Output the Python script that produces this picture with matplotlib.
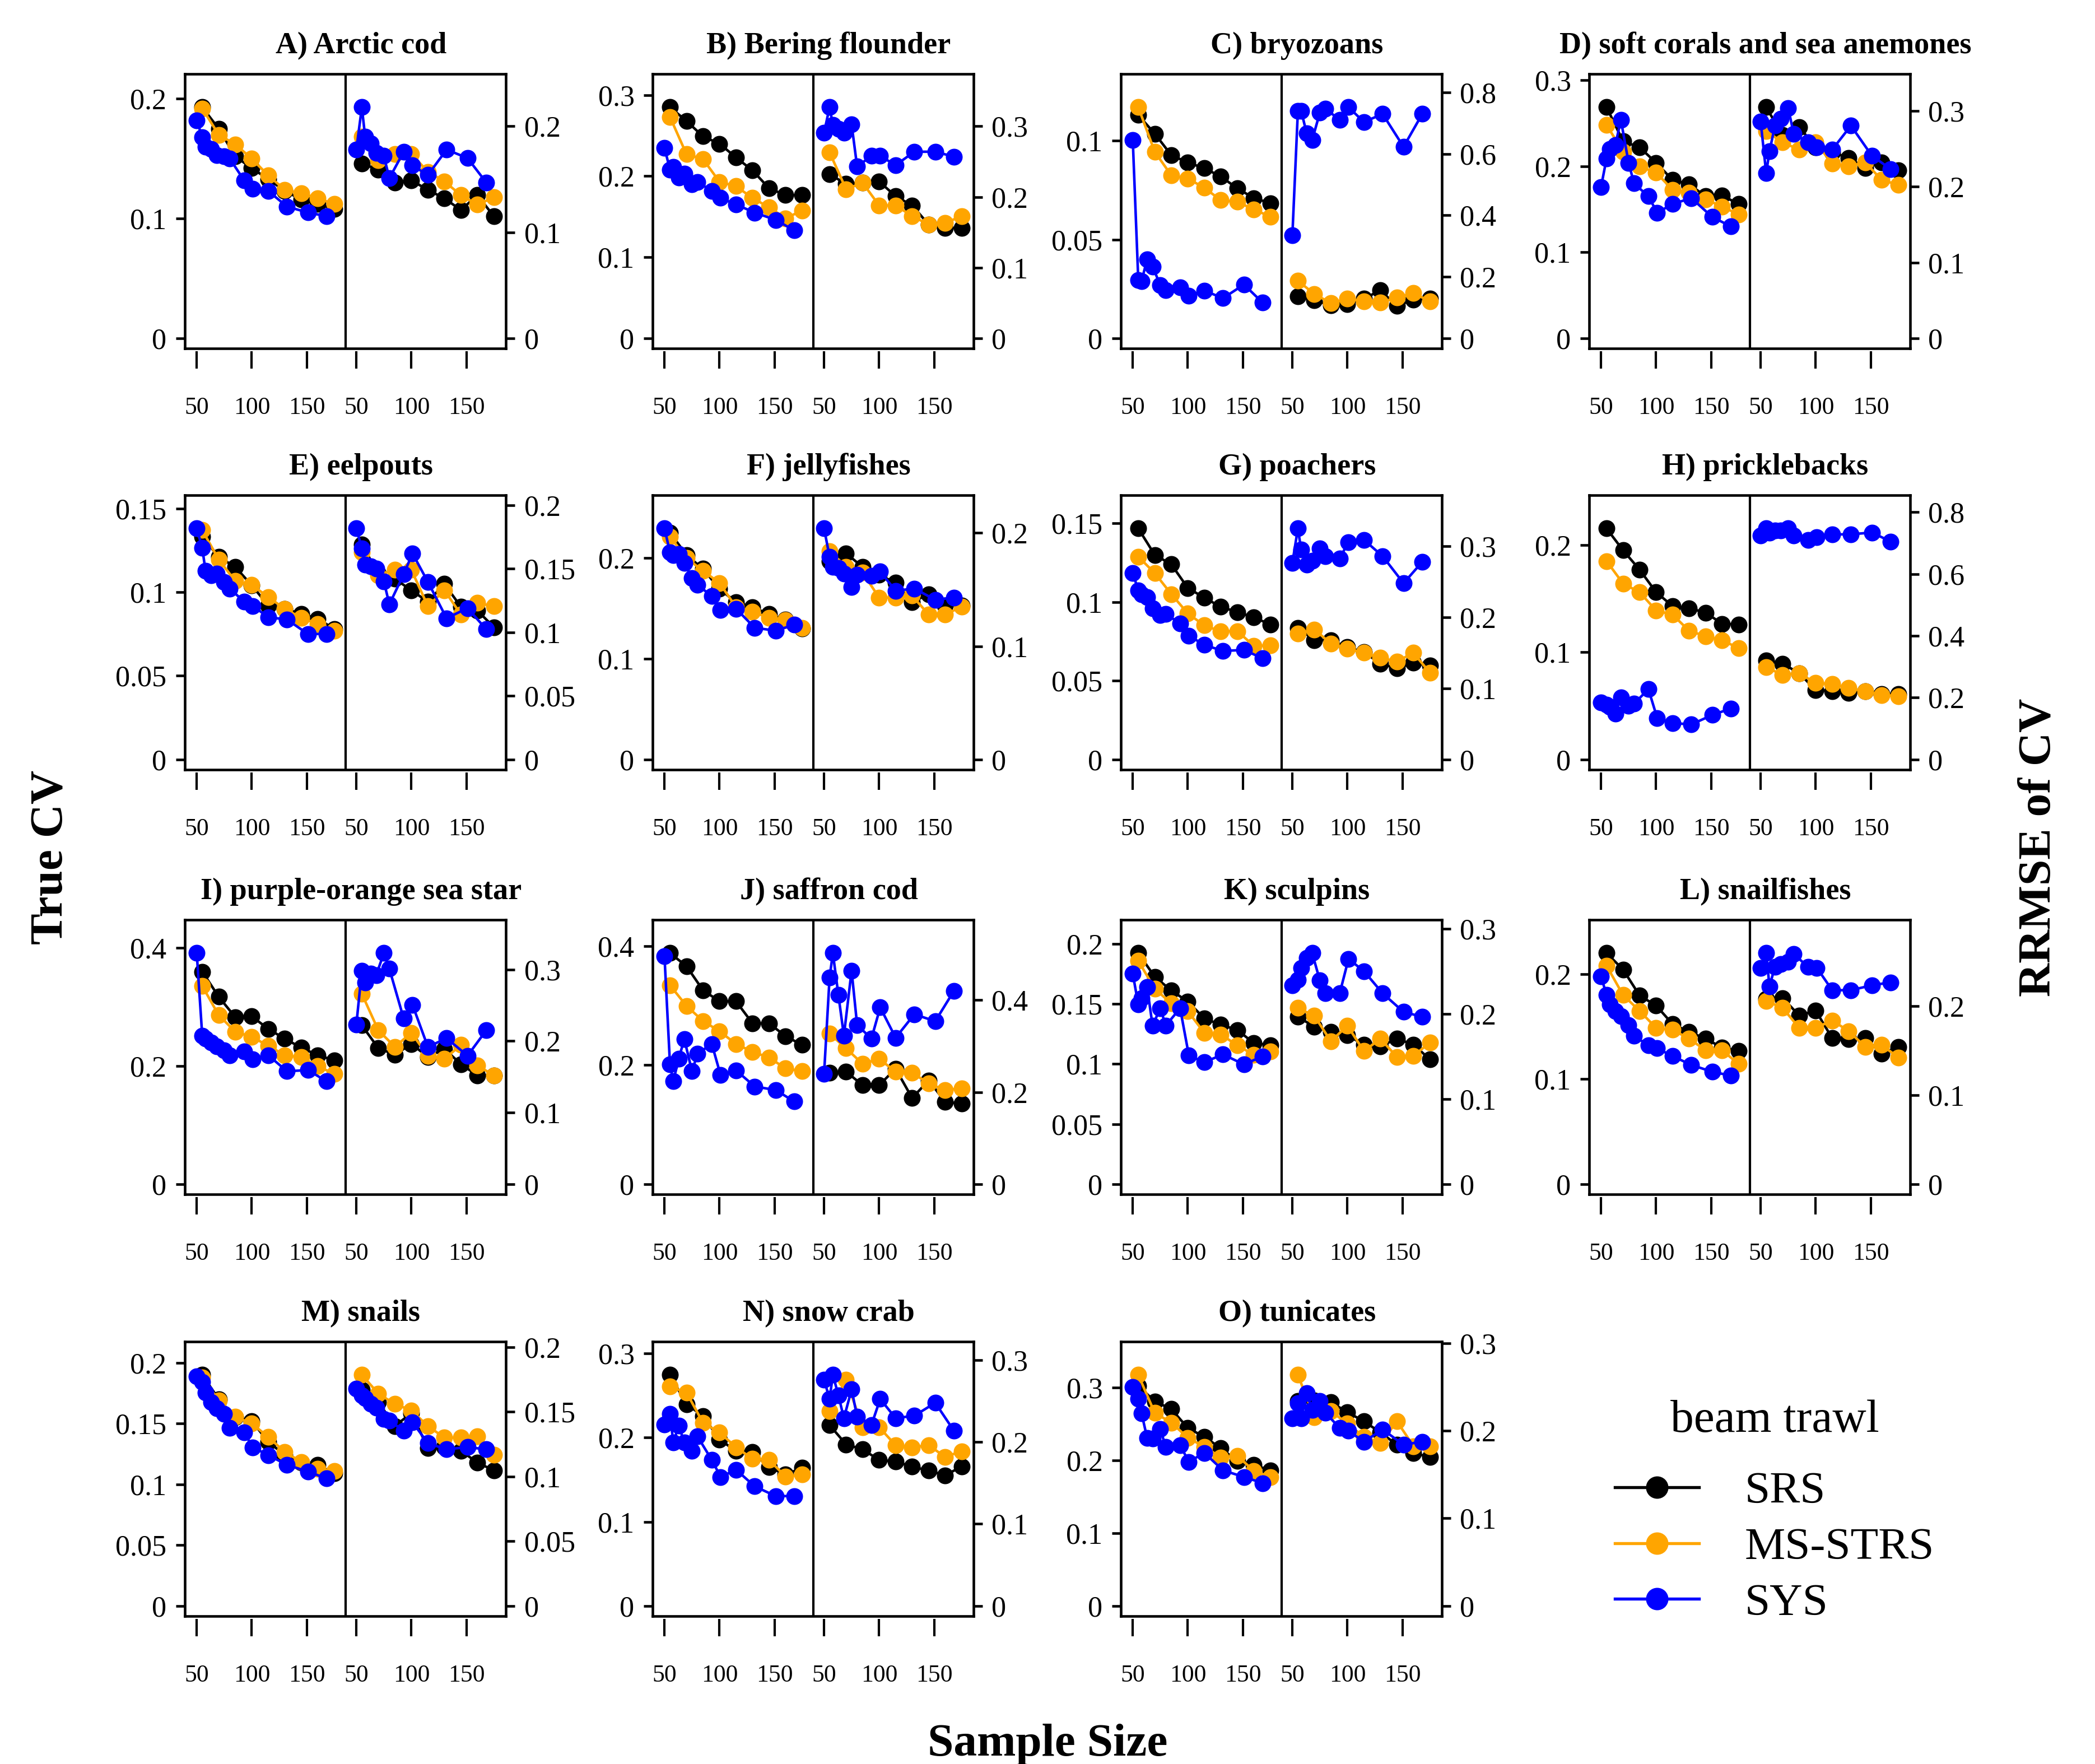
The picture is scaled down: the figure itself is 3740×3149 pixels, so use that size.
import numpy as np
import matplotlib

matplotlib.use("Agg")
import matplotlib.pyplot as plt
from matplotlib.lines import Line2D
from matplotlib.ticker import FixedLocator, FuncFormatter

plt.rcParams["font.family"] = ["Liberation Serif", "DejaVu Serif"]

# sample sizes: SRS and MS-STRS share one grid, SYS has its own
SRS_N = [55, 70, 85, 100, 115, 130, 145, 160, 175]
SYS_N = [50, 55, 58, 63, 68, 75, 80, 93, 101, 115, 132, 151, 168]
OFFSET = 145  # right half (RRMSE) is drawn shifted along the same x axis

titles = ["A) Arctic cod", "B) Bering flounder", "C) bryozoans",
          "D) soft corals and sea anemones", "E) eelpouts", "F) jellyfishes",
          "G) poachers", "H) pricklebacks", "I) purple-orange sea star",
          "J) saffron cod", "K) sculpins", "L) snailfishes", "M) snails",
          "N) snow crab", "O) tunicates"]

# True CV (left half of every panel)
cv_srs = {
    "A": [0.193, 0.175, 0.152, 0.142, 0.133, 0.123, 0.116, 0.112, 0.108],
    "B": [0.285, 0.268, 0.249, 0.240, 0.223, 0.207, 0.185, 0.1765, 0.1765],
    "C": [0.113, 0.1036, 0.0927, 0.089, 0.0861, 0.0819, 0.0759, 0.071, 0.0684],
    "D": [0.2686, 0.229, 0.222, 0.204, 0.184, 0.179, 0.165, 0.166, 0.156],
    "E": [0.133, 0.121, 0.115, 0.104, 0.092, 0.090, 0.087, 0.084, 0.078],
    "F": [0.225, 0.2026, 0.189, 0.169, 0.156, 0.151, 0.144, 0.1385, 0.1297],
    "G": [0.1468, 0.130, 0.124, 0.109, 0.1028, 0.097, 0.0937, 0.0903, 0.0858],
    "H": [0.2154, 0.195, 0.177, 0.156, 0.143, 0.141, 0.137, 0.1265, 0.126],
    "I": [0.3596, 0.317, 0.2825, 0.284, 0.2626, 0.246, 0.231, 0.218, 0.2096],
    "J": [0.388, 0.366, 0.3256, 0.307, 0.307, 0.270, 0.270, 0.2485, 0.2338],
    "K": [0.1924, 0.1726, 0.1613, 0.152, 0.138, 0.1327, 0.1284, 0.1174, 0.1158],
    "L": [0.220, 0.2043, 0.1796, 0.170, 0.1524, 0.145, 0.1385, 0.130, 0.127],
    "M": [0.190, 0.170, 0.155, 0.152, 0.135, 0.124, 0.118, 0.116, 0.109],
    "N": [0.2744, 0.2396, 0.2257, 0.1978, 0.1839, 0.1827, 0.1649, 0.156, 0.164],
    "O": [0.3029, 0.2813, 0.2709, 0.2447, 0.2327, 0.2169, 0.1994, 0.194, 0.1865],
}
cv_ms = {
    "A": [0.192, 0.170, 0.162, 0.150, 0.136, 0.124, 0.121, 0.117, 0.112],
    "B": [0.273, 0.227, 0.221, 0.193, 0.1875, 0.173, 0.1615, 0.148, 0.1575],
    "C": [0.117, 0.0944, 0.0825, 0.0809, 0.0762, 0.0699, 0.0691, 0.0652, 0.0616],
    "D": [0.248, 0.2167, 0.200, 0.1925, 0.1726, 0.1695, 0.1616, 0.153, 0.144],
    "E": [0.137, 0.1194, 0.1066, 0.1043, 0.097, 0.090, 0.0846, 0.081, 0.077],
    "F": [0.221, 0.1996, 0.187, 0.175, 0.151, 0.1464, 0.1405, 0.138, 0.1306],
    "G": [0.1289, 0.1184, 0.1051, 0.0928, 0.0852, 0.0814, 0.0816, 0.0722, 0.0725],
    "H": [0.185, 0.164, 0.156, 0.139, 0.135, 0.120, 0.115, 0.111, 0.104],
    "I": [0.3354, 0.2858, 0.258, 0.249, 0.2344, 0.218, 0.2146, 0.1997, 0.1864],
    "J": [0.334, 0.2993, 0.274, 0.2567, 0.2354, 0.2223, 0.2125, 0.1944, 0.1895],
    "K": [0.186, 0.1626, 0.1505, 0.144, 0.126, 0.1247, 0.1155, 0.1077, 0.1106],
    "L": [0.208, 0.180, 0.165, 0.1487, 0.1469, 0.1385, 0.1274, 0.1274, 0.1144],
    "M": [0.188, 0.169, 0.1555, 0.150, 0.139, 0.1265, 0.1185, 0.113, 0.111],
    "N": [0.2605, 0.2535, 0.2176, 0.206, 0.1885, 0.1746, 0.1734, 0.1537, 0.156],
    "O": [0.3178, 0.2655, 0.2522, 0.2314, 0.219, 0.2044, 0.2065, 0.1857, 0.1774],
}
cv_sys = {
    "A": [0.182, 0.168, 0.160, 0.158, 0.153, 0.152, 0.150, 0.132, 0.125, 0.123, 0.110, 0.105, 0.102],
    "B": [0.235, 0.208, 0.211, 0.198, 0.203, 0.190, 0.193, 0.1815, 0.173, 0.165, 0.155, 0.146, 0.133],
    "C": [0.1005, 0.0295, 0.029, 0.0399, 0.0363, 0.0269, 0.0243, 0.0258, 0.0215, 0.0241, 0.0203, 0.0272, 0.018],
    "D": [0.176, 0.209, 0.220, 0.2245, 0.254, 0.204, 0.180, 0.165, 0.146, 0.156, 0.163, 0.141, 0.130],
    "E": [0.138, 0.1264, 0.1126, 0.110, 0.111, 0.106, 0.102, 0.0944, 0.0917, 0.085, 0.0836, 0.075, 0.075],
    "F": [0.229, 0.2055, 0.2026, 0.2035, 0.1947, 0.180, 0.173, 0.162, 0.148, 0.1494, 0.1306, 0.1277, 0.1336],
    "G": [0.1184, 0.1076, 0.105, 0.1032, 0.096, 0.0918, 0.0924, 0.0865, 0.0787, 0.0728, 0.069, 0.0696, 0.0643],
    "H": [0.0532, 0.051, 0.049, 0.043, 0.058, 0.050, 0.052, 0.0657, 0.0387, 0.034, 0.0327, 0.0415, 0.0476],
    "I": [0.391, 0.251, 0.246, 0.240, 0.2328, 0.226, 0.218, 0.2245, 0.211, 0.218, 0.191, 0.193, 0.174],
    "J": [0.383, 0.201, 0.173, 0.2108, 0.2436, 0.1895, 0.219, 0.2354, 0.183, 0.191, 0.164, 0.158, 0.1387],
    "K": [0.1752, 0.1497, 0.155, 0.1642, 0.132, 0.1465, 0.132, 0.1465, 0.107, 0.1016, 0.108, 0.0997, 0.1065],
    "L": [0.1978, 0.180, 0.171, 0.165, 0.160, 0.1515, 0.1413, 0.132, 0.1293, 0.1219, 0.1135, 0.107, 0.1033],
    "M": [0.189, 0.184, 0.1756, 0.1675, 0.1627, 0.158, 0.1466, 0.1426, 0.1305, 0.124, 0.116, 0.1105, 0.1048],
    "N": [0.2152, 0.228, 0.1943, 0.214, 0.1943, 0.1839, 0.2013, 0.1734, 0.1532, 0.1618, 0.142, 0.1305, 0.1305],
    "O": [0.301, 0.285, 0.265, 0.2314, 0.2306, 0.243, 0.219, 0.221, 0.1982, 0.2106, 0.1865, 0.1774, 0.169],
}

# RRMSE of CV (right half of every panel)
rr_srs = {
    "A": [0.165, 0.159, 0.147, 0.149, 0.140, 0.132, 0.121, 0.135, 0.115],
    "B": [0.232, 0.2185, 0.220, 0.222, 0.201, 0.188, 0.161, 0.156, 0.156],
    "C": [0.136, 0.123, 0.108, 0.111, 0.129, 0.156, 0.105, 0.126, 0.129],
    "D": [0.305, 0.268, 0.279, 0.252, 0.2456, 0.238, 0.225, 0.232, 0.2216],
    "E": [0.169, 0.146, 0.142, 0.133, 0.124, 0.138, 0.120, 0.117, 0.104],
    "F": [0.175, 0.182, 0.170, 0.163, 0.156, 0.139, 0.146, 0.136, 0.136],
    "G": [0.185, 0.168, 0.168, 0.158, 0.151, 0.135, 0.128, 0.136, 0.132],
    "H": [0.321, 0.310, 0.279, 0.2245, 0.221, 0.215, 0.221, 0.212, 0.212],
    "I": [0.222, 0.190, 0.181, 0.196, 0.178, 0.189, 0.1677, 0.152, 0.152],
    "J": [0.242, 0.2444, 0.215, 0.215, 0.2507, 0.187, 0.2254, 0.179, 0.1746],
    "K": [0.1967, 0.185, 0.179, 0.1748, 0.164, 0.162, 0.171, 0.164, 0.1466],
    "L": [0.2086, 0.2092, 0.1895, 0.195, 0.164, 0.163, 0.164, 0.1467, 0.1543],
    "M": [0.1672, 0.1574, 0.139, 0.149, 0.122, 0.1227, 0.120, 0.1106, 0.1048],
    "N": [0.2206, 0.197, 0.191, 0.178, 0.176, 0.170, 0.165, 0.1594, 0.170],
    "O": [0.2336, 0.2343, 0.2325, 0.2211, 0.2107, 0.198, 0.184, 0.1744, 0.170],
}
rr_ms = {
    "A": [0.190, 0.168, 0.174, 0.174, 0.157, 0.148, 0.135, 0.126, 0.133],
    "B": [0.263, 0.211, 0.220, 0.188, 0.188, 0.173, 0.161, 0.163, 0.173],
    "C": [0.187, 0.144, 0.114, 0.129, 0.12, 0.116, 0.132, 0.147, 0.12],
    "D": [0.2735, 0.2585, 0.249, 0.2585, 0.2306, 0.227, 0.232, 0.209, 0.2026],
    "E": [0.163, 0.145, 0.149, 0.149, 0.1205, 0.133, 0.114, 0.123, 0.1205],
    "F": [0.184, 0.170, 0.165, 0.143, 0.143, 0.1446, 0.128, 0.128, 0.135],
    "G": [0.177, 0.183, 0.163, 0.156, 0.150, 0.143, 0.138, 0.150, 0.122],
    "H": [0.299, 0.273, 0.279, 0.247, 0.244, 0.231, 0.221, 0.208, 0.205],
    "I": [0.266, 0.215, 0.192, 0.2115, 0.1795, 0.175, 0.1945, 0.1658, 0.152],
    "J": [0.327, 0.295, 0.2613, 0.272, 0.2444, 0.242, 0.219, 0.204, 0.2085],
    "K": [0.207, 0.1978, 0.1679, 0.1863, 0.1563, 0.171, 0.1494, 0.1506, 0.1667],
    "L": [0.206, 0.198, 0.1756, 0.1756, 0.184, 0.172, 0.1543, 0.1565, 0.1423],
    "M": [0.1785, 0.164, 0.156, 0.151, 0.139, 0.130, 0.130, 0.131, 0.1166],
    "N": [0.238, 0.276, 0.218, 0.218, 0.196, 0.1935, 0.196, 0.1818, 0.1888],
    "O": [0.2637, 0.2152, 0.2221, 0.2083, 0.1927, 0.1858, 0.2107, 0.1824, 0.1824],
}
rr_sys = {
    "A": [0.178, 0.218, 0.190, 0.184, 0.175, 0.172, 0.151, 0.176, 0.163, 0.154, 0.178, 0.170, 0.147],
    "B": [0.291, 0.327, 0.302, 0.296, 0.291, 0.303, 0.243, 0.258, 0.258, 0.245, 0.264, 0.264, 0.257],
    "C": [0.335, 0.74, 0.74, 0.667, 0.645, 0.735, 0.748, 0.71, 0.752, 0.704, 0.73, 0.623, 0.73],
    "D": [0.286, 0.218, 0.2467, 0.2807, 0.2897, 0.304, 0.270, 0.259, 0.252, 0.249, 0.2807, 0.241, 0.2234],
    "E": [0.1816, 0.166, 0.153, 0.152, 0.150, 0.140, 0.122, 0.1456, 0.162, 0.1396, 0.111, 0.119, 0.1024],
    "F": [0.204, 0.179, 0.170, 0.169, 0.164, 0.1525, 0.163, 0.162, 0.166, 0.149, 0.151, 0.141, 0.143],
    "G": [0.2765, 0.325, 0.295, 0.274, 0.280, 0.297, 0.286, 0.283, 0.306, 0.309, 0.286, 0.248, 0.278],
    "H": [0.724, 0.747, 0.734, 0.741, 0.741, 0.747, 0.724, 0.71, 0.718, 0.728, 0.728, 0.734, 0.705],
    "I": [0.223, 0.2986, 0.282, 0.2945, 0.292, 0.323, 0.301, 0.2315, 0.2507, 0.1918, 0.204, 0.1795, 0.215],
    "J": [0.240, 0.449, 0.502, 0.411, 0.3226, 0.464, 0.346, 0.316, 0.384, 0.318, 0.369, 0.354, 0.420],
    "K": [0.2336, 0.2405, 0.254, 0.266, 0.2716, 0.2393, 0.2243, 0.2243, 0.2647, 0.2504, 0.2243, 0.2024, 0.1967],
    "L": [0.2432, 0.2597, 0.2224, 0.2443, 0.2476, 0.2498, 0.2586, 0.2443, 0.2432, 0.218, 0.218, 0.2235, 0.2268],
    "M": [0.168, 0.1627, 0.1604, 0.156, 0.153, 0.1446, 0.143, 0.1355, 0.142, 0.1257, 0.121, 0.1227, 0.121],
    "N": [0.276, 0.2524, 0.2818, 0.257, 0.229, 0.264, 0.231, 0.2206, 0.2524, 0.229, 0.232, 0.2477, 0.2136],
    "O": [0.2142, 0.2315, 0.2142, 0.2429, 0.2239, 0.2336, 0.2204, 0.2031, 0.1997, 0.1875, 0.2014, 0.184, 0.1875],
}

left_ticks = {
    "A": [0, 0.1, 0.2], "B": [0, 0.1, 0.2, 0.3], "C": [0, 0.05, 0.1],
    "D": [0, 0.1, 0.2, 0.3], "E": [0, 0.05, 0.1, 0.15], "F": [0, 0.1, 0.2],
    "G": [0, 0.05, 0.1, 0.15], "H": [0, 0.1, 0.2], "I": [0, 0.2, 0.4],
    "J": [0, 0.2, 0.4], "K": [0, 0.05, 0.1, 0.15, 0.2], "L": [0, 0.1, 0.2],
    "M": [0, 0.05, 0.1, 0.15, 0.2], "N": [0, 0.1, 0.2, 0.3], "O": [0, 0.1, 0.2, 0.3],
}
right_ticks = {
    "A": [0, 0.1, 0.2], "B": [0, 0.1, 0.2, 0.3], "C": [0, 0.2, 0.4, 0.6, 0.8],
    "D": [0, 0.1, 0.2, 0.3], "E": [0, 0.05, 0.1, 0.15, 0.2], "F": [0, 0.1, 0.2],
    "G": [0, 0.1, 0.2, 0.3], "H": [0, 0.2, 0.4, 0.6, 0.8], "I": [0, 0.1, 0.2, 0.3],
    "J": [0, 0.2, 0.4], "K": [0, 0.1, 0.2, 0.3], "L": [0, 0.1, 0.2],
    "M": [0, 0.05, 0.1, 0.15, 0.2], "N": [0, 0.1, 0.2, 0.3], "O": [0, 0.1, 0.2, 0.3],
}

x_ticks = [50, 100, 150]
methods = ["SRS", "MS-STRS", "SYS"]
colors = ["black", "orange", "blue"]

# ---- layout in output pixels ----
W, H = 3740, 3149
COL_X = [330, 1165, 2001, 2837]
ROW_Y = [132, 884, 1642, 2395]
BOX_W, BOX_H = 573, 490
MS, LW = 6.2, 1.1

fig = plt.figure(figsize=(W / 300, H / 300), dpi=300)
fmt = FuncFormatter(lambda v, p: f"{v:g}")


def rlim(vals):
    top = 1.1 * max(max(v) for v in vals)
    return -0.04 * top, 1.04 * top


for k, title in enumerate(titles):
    key = title[0]
    r, c = divmod(k, 4)
    x0, y0 = COL_X[c], ROW_Y[r]
    ax = fig.add_axes([x0 / W, 1 - (y0 + BOX_H) / H, BOX_W / W, BOX_H / H])
    ax2 = ax.twinx()

    left = [cv_srs[key], cv_ms[key], cv_sys[key]]
    right = [rr_srs[key], rr_ms[key], rr_sys[key]]
    for ys, col, xs in zip(left, colors, [SRS_N, SRS_N, SYS_N]):
        ax.plot(xs, ys, "-o", color=col, ms=MS, lw=LW, clip_on=False)
    for ys, col, xs in zip(right, colors, [SRS_N, SRS_N, SYS_N]):
        ax2.plot(np.array(xs) + OFFSET, ys, "-o", color=col, ms=MS, lw=LW, clip_on=False)

    lo = min(SYS_N + SRS_N)
    hi = max(SYS_N + SRS_N) + OFFSET
    pad = 0.04 * (hi - lo)
    ax.set_xlim(lo - pad, hi + pad)
    ax.axvline((lo + hi) / 2, color="black", lw=1.0)
    ax.set_ylim(*rlim(left))
    ax2.set_ylim(*rlim(right))

    ax.xaxis.set_major_locator(FixedLocator(x_ticks + [t + OFFSET for t in x_ticks]))
    ax.set_xticklabels([str(t) for t in x_ticks] * 2)
    ax.yaxis.set_major_locator(FixedLocator(left_ticks[key]))
    ax2.yaxis.set_major_locator(FixedLocator(right_ticks[key]))
    ax.yaxis.set_major_formatter(fmt)
    ax2.yaxis.set_major_formatter(fmt)

    for s in ax.spines.values():
        s.set_linewidth(1.1)
    ax.spines["bottom"].set_visible(False)
    ax.spines["bottom"].set_position(("outward", 1.3))
    ax.plot([0, 1], [0, 0], transform=ax.transAxes, color="black", lw=1.1,
            clip_on=False, solid_capstyle="projecting")
    for s in ax2.spines.values():
        s.set_visible(False)

    ax.tick_params(axis="x", direction="out", length=7.4, width=1.0, pad=12,
                   labelsize=10.5)
    ax.tick_params(axis="y", direction="out", length=3.8, width=1.1, pad=4,
                   labelsize=12.5)
    ax2.tick_params(axis="y", direction="out", length=3.8, width=1.1, pad=4,
                    labelsize=12.5)

    fig.text((x0 + BOX_W / 2 + 28) / W, 1 - (y0 - 37) / H, title,
             ha="center", va="baseline", fontsize=13, fontweight="bold")

fig.text(92 / W, 1 - 1530 / H, "True CV", rotation=90, ha="center", va="center",
         fontsize=20, fontweight="bold")
fig.text(3640 / W, 1 - 1513 / H, "RRMSE of CV", rotation=90, ha="center",
         va="center", fontsize=20, fontweight="bold")
fig.text(1870 / W, 1 - 3114 / H, "Sample Size", ha="center", va="center",
         fontsize=20, fontweight="bold")

# legend: title placed on its own, entries below it
fig.text(3168 / W, 1 - 2536 / H, "beam trawl", ha="center", va="center", fontsize=20)
handles = [Line2D([], [], color=col, marker="o", ms=8.6, lw=1.3) for col in colors]
fig.legend(handles, methods, loc="center", bbox_to_anchor=(3168 / W, 1 - 2763 / H),
           frameon=False, fontsize=19.5, handlelength=1.85, handletextpad=1.0,
           labelspacing=0.32)

fig.savefig("out.png", dpi=300)
